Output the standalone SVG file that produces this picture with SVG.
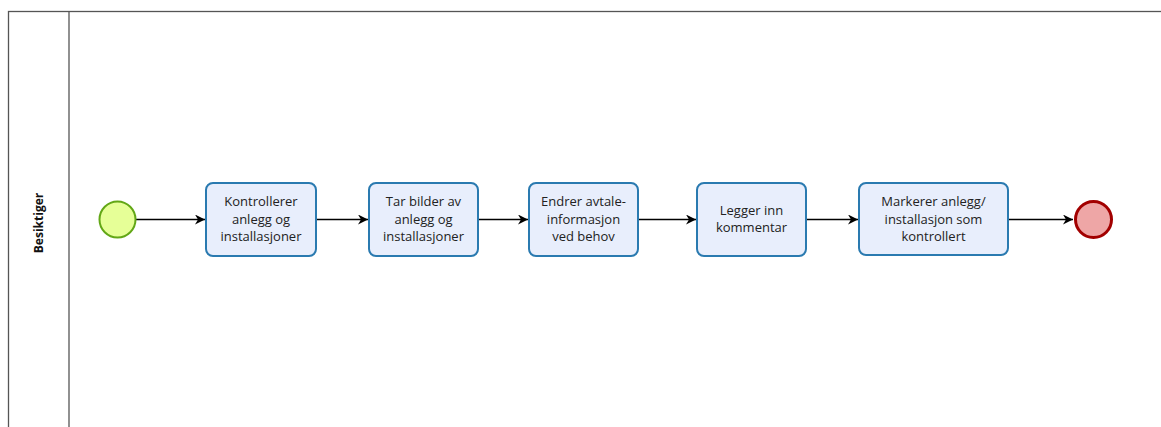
<svg xmlns="http://www.w3.org/2000/svg" width="1161" height="427" viewBox="0 0 1161 427">
<style>
.task rect{fill:#e8eefc;stroke:#2a7ab0;stroke-width:2}
.task text{font-family:"Open Sans","DejaVu Sans",sans-serif;font-size:13px;fill:#222;text-anchor:middle}
.conn line{stroke:#000;stroke-width:1.3;fill:none;marker-end:url(#arr)}
.pool{fill:none;stroke:#555;stroke-width:1.3}
</style>
<defs>
<marker id="arr" viewBox="0 0 10 10" refX="10" refY="5" markerWidth="10" markerHeight="10" markerUnits="userSpaceOnUse" orient="auto">
<path d="M0,0 L10,5 L0,10 L3,5 z" fill="#000"/>
</marker>
</defs>
<rect width="1161" height="427" fill="#fff"/>
<g id="pool">
<rect class="pool" x="8.5" y="11.5" width="1170" height="430"/>
<line class="pool" x1="69" y1="11.5" x2="69" y2="440"/>
<text x="0" y="0" transform="translate(43,223) rotate(-90)" font-family="'Open Sans','DejaVu Sans',sans-serif" font-size="12" font-weight="bold" text-anchor="middle" fill="#111">Besiktiger</text>
</g>
<g id="connectors" class="conn">
<line x1="136" y1="219.5" x2="205" y2="219.5"/>
<line x1="316" y1="219.5" x2="368" y2="219.5"/>
<line x1="478" y1="219.5" x2="528" y2="219.5"/>
<line x1="639" y1="219.5" x2="696" y2="219.5"/>
<line x1="807" y1="219.5" x2="858" y2="219.5"/>
<line x1="1009" y1="219.5" x2="1073" y2="219.5"/>
</g>
<g id="start"><circle cx="117.5" cy="219.5" r="18" fill="#e6ff97" stroke="#62a716" stroke-width="2"/></g>
<g id="task1" class="task"><rect x="206" y="183" width="110" height="73" rx="7"/>
<text x="261" y="206">Kontrollerer</text><text x="261" y="224">anlegg og</text><text x="261" y="241">installasjoner</text></g>
<g id="task2" class="task"><rect x="369" y="183" width="109" height="73" rx="7"/>
<text x="423.5" y="206">Tar bilder av</text><text x="423.5" y="224">anlegg og</text><text x="423.5" y="241">installasjoner</text></g>
<g id="task3" class="task"><rect x="529" y="183" width="109" height="73" rx="7"/>
<text x="583.5" y="206">Endrer avtale-</text><text x="583.5" y="224">informasjon</text><text x="583.5" y="241">ved behov</text></g>
<g id="task4" class="task"><rect x="697" y="183" width="109" height="73" rx="7"/>
<text x="751.5" y="215">Legger inn</text><text x="751.5" y="232">kommentar</text></g>
<g id="task5" class="task"><rect x="859" y="183" width="149" height="72" rx="7"/>
<text x="933.5" y="206">Markerer anlegg/</text><text x="933.5" y="224">installasjon som</text><text x="933.5" y="241">kontrollert</text></g>
<g id="end"><circle cx="1093.5" cy="219.5" r="18" fill="#eea6a6" stroke="#a20000" stroke-width="3"/></g>
</svg>
